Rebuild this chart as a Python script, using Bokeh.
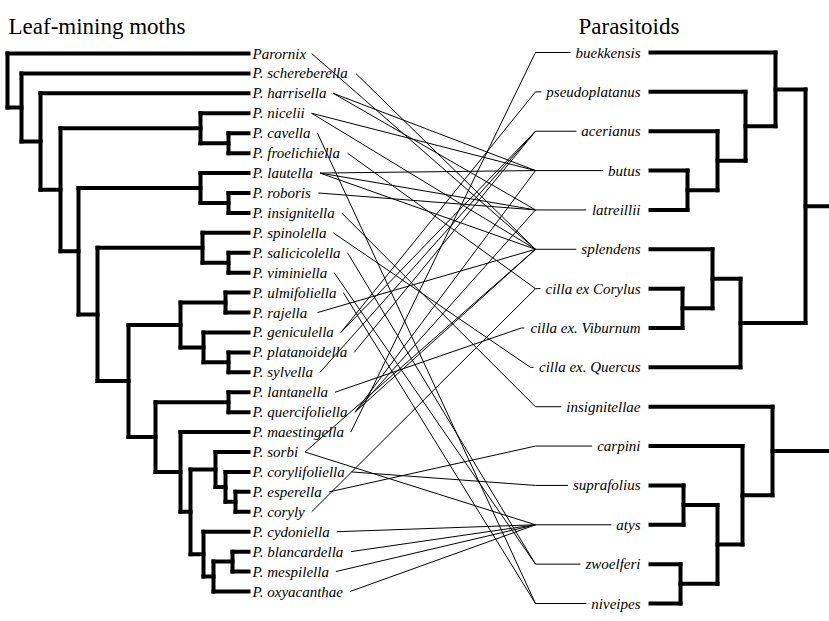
from bokeh.plotting import figure
from bokeh.models import Range1d
from bokeh.embed import file_html
from bokeh.resources import INLINE
from bokeh.core.properties import value

# ---------------- data ----------------
title_left = "Leaf-mining moths"
title_right = "Parasitoids"

moths = ["Parornix", "P. schereberella", "P. harrisella", "P. nicelii", "P. cavella",
         "P. froelichiella", "P. lautella", "P. roboris", "P. insignitella", "P. spinolella",
         "P. salicicolella", "P. viminiella", "P. ulmifoliella", "P. rajella", "P. geniculella",
         "P. platanoidella", "P. sylvella", "P. lantanella", "P. quercifoliella",
         "P. maestingella", "P. sorbi", "P. corylifoliella", "P. esperella", "P. coryly",
         "P. cydoniella", "P. blancardella", "P. mespilella", "P. oxyacanthae"]

parasitoids = ["buekkensis", "pseudoplatanus", "acerianus", "butus", "latreillii",
               "splendens", "cilla ex Corylus", "cilla ex. Viburnum", "cilla ex. Quercus",
               "insignitellae", "carpini", "suprafolius", "atys", "zwoelferi", "niveipes"]

# trees: (node depth, child, child); leaves are names
clade_nic = (200, "P. nicelii", (228, "P. cavella", "P. froelichiella"))
clade_lau = (200, "P. lautella", (228, "P. roboris", "P. insignitella"))
clade_spi = (202, "P. spinolella", (228, "P. salicicolella", "P. viminiella"))
clade_ulm = (180, (225, "P. ulmifoliella", "P. rajella"),
             (203, "P. geniculella", (228, "P. platanoidella", "P. sylvella")))
clade_lan = (228, "P. lantanella", "P. quercifoliella")
clade_sor = (215, "P. sorbi", (225, "P. corylifoliella", (235, "P. esperella", "P. coryly")))
clade_cyd = (203, "P. cydoniella", (213, (232, "P. blancardella", "P. mespilella"), "P. oxyacanthae"))
node_190 = (190, clade_sor, clade_cyd)
node_180 = (180, "P. maestingella", node_190)
node_155 = (155, clade_lan, node_180)
node_128 = (128, clade_ulm, node_155)
node_97 = (97, clade_spi, node_128)
node_78 = (78, clade_lau, node_97)
node_60 = (60, clade_nic, node_78)
node_40 = (40, "P. harrisella", node_60)
node_21 = (21, "P. schereberella", node_40)
moth_tree = (7, "Parornix", node_21)

clade_buek = (775, "buekkensis", (745, "pseudoplatanus", (717, "acerianus", (687, "butus", "latreillii"))))
clade_spl = (740, (712, "splendens", (682, "cilla ex Corylus", "cilla ex. Viburnum")), "cilla ex. Quercus")
parasitoid_tree_top = (805, clade_buek, clade_spl)
clade_atys = (717, (683, "suprafolius", "atys"), (680, "zwoelferi", "niveipes"))
parasitoid_tree_bottom = (772, "insignitellae", (742, "carpini", clade_atys))

links_moth = ["Parornix", "P. schereberella", "P. harrisella", "P. harrisella",
              "P. nicelii", "P. nicelii", "P. cavella", "P. froelichiella",
              "P. lautella", "P. lautella", "P. lautella", "P. roboris",
              "P. insignitella", "P. spinolella", "P. salicicolella", "P. viminiella",
              "P. ulmifoliella", "P. rajella", "P. geniculella", "P. geniculella",
              "P. platanoidella", "P. sylvella", "P. lantanella", "P. quercifoliella",
              "P. quercifoliella", "P. quercifoliella", "P. maestingella", "P. sorbi",
              "P. sorbi", "P. corylifoliella", "P. esperella", "P. coryly",
              "P. cydoniella", "P. blancardella", "P. mespilella", "P. oxyacanthae"]
links_parasitoid = ["splendens", "splendens", "butus", "latreillii",
                    "butus", "splendens", "niveipes", "cilla ex Corylus",
                    "butus", "latreillii", "splendens", "latreillii",
                    "insignitellae", "cilla ex. Quercus", "zwoelferi", "zwoelferi",
                    "niveipes", "splendens", "pseudoplatanus", "acerianus",
                    "acerianus", "acerianus", "cilla ex. Viburnum", "butus",
                    "latreillii", "splendens", "buekkensis", "splendens",
                    "atys", "suprafolius", "carpini", "cilla ex Corylus",
                    "atys", "atys", "atys", "atys"]

# ---------------- layout ----------------
FONT = value("'Liberation Serif', 'Times New Roman', serif")
LABEL_PX = 15
W = dict(zip(" .PCQVabcdefghiklmnoprstuvwxyz",
             [250, 250, 611, 667, 722, 611, 500, 500, 444, 500, 444, 278, 500, 500, 278,
              444, 278, 722, 500, 500, 500, 389, 389, 278, 500, 444, 667, 444, 444, 389]))


def text_w(s):
    return sum(W.get(c, 500) for c in s) / 1000.0 * LABEL_PX


def spread(names, top, bottom):
    step = (bottom - top) / (len(names) - 1)
    return {n: top + i * step for i, n in enumerate(names)}


moth_y = spread(moths, 53, 591)
par_y = spread(parasitoids, 52, 603)


def build(node, ys, tip, segs):
    if isinstance(node, str):
        return tip, ys[node]
    x = node[0]
    kids = [build(c, ys, tip, segs) for c in node[1:]]
    cy = [k[1] for k in kids]
    segs.append((x, min(cy), x, max(cy)))
    for kx, ky in kids:
        segs.append((x, ky, kx, ky))
    return x, (min(cy) + max(cy)) / 2


tree_segs = []
build(moth_tree, moth_y, 248, tree_segs)
for t in (parasitoid_tree_top, parasitoid_tree_bottom):
    rx, ry = build(t, par_y, 650, tree_segs)
    tree_segs.append((rx, ry, 829, ry))

LEFT_X = 252
RIGHT_X = 640
left_anchor = {m: LEFT_X + text_w(m) + 5 for m in moths}
right_start = {q: RIGHT_X - text_w(q) for q in parasitoids}
right_anchor = {q: min(right_start[q] - 8, 535) for q in parasitoids}

stubs = [(right_anchor[q], par_y[q], right_start[q] - 5, par_y[q])
         for q in parasitoids if right_start[q] - 5 > right_anchor[q] + 1]

p = figure(width=829, height=621, output_backend="svg", toolbar_location=None,
           x_range=Range1d(0, 829), y_range=Range1d(621, 0), min_border=0)
p.axis.visible = False
p.grid.visible = False
p.outline_line_color = None
p.background_fill_color = "white"

p.segment(x0=[s[0] for s in tree_segs], y0=[s[1] for s in tree_segs],
          x1=[s[2] for s in tree_segs], y1=[s[3] for s in tree_segs],
          line_width=4, line_color="black", line_cap="square")

p.segment(x0=[left_anchor[m] for m in links_moth], y0=[moth_y[m] for m in links_moth],
          x1=[right_anchor[q] for q in links_parasitoid], y1=[par_y[q] for q in links_parasitoid],
          line_width=1, line_color="black")
p.segment(x0=[s[0] for s in stubs], y0=[s[1] for s in stubs],
          x1=[s[2] for s in stubs], y1=[s[3] for s in stubs],
          line_width=1, line_color="black")

p.text(x=[LEFT_X] * len(moths), y=[moth_y[m] for m in moths], text=moths,
       text_font=FONT, text_font_style="italic", text_font_size=f"{LABEL_PX}px",
       text_align="left", text_baseline="middle", text_color="black")
p.text(x=[RIGHT_X] * len(parasitoids), y=[par_y[q] for q in parasitoids], text=parasitoids,
       text_font=FONT, text_font_style="italic", text_font_size=f"{LABEL_PX}px",
       text_align="right", text_baseline="middle", text_color="black")

p.text(x=[8, 578], y=[26, 26], text=[title_left, title_right],
       text_font=FONT, text_font_size="23px", text_align="left",
       text_baseline="alphabetic", text_color="black")

open("out.html", "w").write(file_html(p, INLINE))
